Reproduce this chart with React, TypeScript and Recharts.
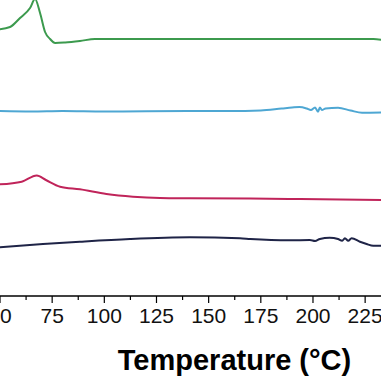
import { LineChart, Line, XAxis, YAxis } from 'recharts';

// temperature (°C) and offset heat-flow signal (arbitrary units) for each trace
const greenT = [49, 54.8, 59.6, 64.4, 66.8, 69.2, 71.6, 74, 76.4, 81.2, 88.3, 95.5, 229, 233];
const greenV = [266.5, 269, 278, 288, 297, 283, 264, 257, 253, 253.5, 255, 257, 257, 256];

const cyanT = [49, 65, 80, 100, 120, 140, 160, 175, 185, 190, 193.5, 197, 199, 201, 202.4, 203.3, 204.3, 206, 212, 218, 223.5, 233];
const cyanV = [185, 184.5, 185, 184.5, 184.8, 185, 185, 185.5, 187.5, 188.5, 189, 187.5, 186, 188.5, 184.3, 188.5, 186, 187.5, 188.2, 185.5, 183.3, 183.5];

const pinkT = [49, 60.4, 67.6, 72, 78.8, 88.3, 101, 113.7, 126.7, 141, 170, 194, 233];
const pinkV = [111.5, 114.3, 120.5, 116, 109.3, 106.7, 102, 99.3, 98, 97.7, 97.4, 97, 96];

const navyT = [49, 70.6, 88.3, 112.3, 141, 165, 170, 189, 198.5, 201, 203.3, 208, 212, 214, 215.3, 216.9, 218.5, 222.5, 225.7, 228.9, 233];
const navyV = [48.5, 52, 54.3, 57, 58.7, 57.7, 57, 55.7, 56, 55, 57, 58.3, 57, 55.3, 57.7, 55.3, 57.7, 54.3, 52, 50.3, 50.3];

const xTicks = [50, 62.5, 75, 87.5, 100, 112.5, 125, 137.5, 150, 162.5, 175, 187.5, 200, 212.5, 225];

const toPoints = (ts: number[], vs: number[]) => ts.map((t, i) => ({ t, v: vs[i] }));

const series = [
  { name: 'green', color: '#3c9a4e', data: toPoints(greenT, greenV) },
  { name: 'cyan', color: '#4ea7d3', data: toPoints(cyanT, cyanV) },
  { name: 'pink', color: '#c0245a', data: toPoints(pinkT, pinkV) },
  { name: 'navy', color: '#1f2447', data: toPoints(navyT, navyV) },
];

function TempTick({ x, y, payload }: any) {
  const major = payload.value % 25 === 0;
  return (
    <g>
      <line x1={x} x2={x} y1={y} y2={y + (major ? 7 : 4)} stroke="#000" strokeWidth={1.2} />
      {major && (
        <text x={x} y={y + 27} textAnchor="middle" fontSize={21} fill="#111" fontFamily="'Liberation Sans', Arial, sans-serif">
          {payload.value}
        </text>
      )}
    </g>
  );
}

export default function App() {
  return (
    <div style={{ position: 'absolute', left: 0, top: 0, width: 381, height: 381, overflow: 'hidden', background: '#fff' }}>
      <LineChart width={381} height={381} margin={{ top: 0, right: 0, bottom: 0, left: 0 }}>
        <XAxis
          type="number"
          dataKey="t"
          domain={[50, 232.6]}
          allowDataOverflow
          ticks={xTicks}
          interval={0}
          tickSize={0}
          tickMargin={0}
          tick={<TempTick />}
          height={85}
          stroke="#000"
          strokeWidth={1.5}
          label={{
            value: 'Temperature (°C)',
            position: 'insideBottom',
            offset: 11,
            dx: 44,
            style: { fontSize: 29, fontWeight: 'bold', fill: '#000', fontFamily: "'Liberation Sans', Arial, sans-serif" },
          }}
        />
        <YAxis hide type="number" domain={[0, 296]} allowDataOverflow />
        {series.map((s) => (
          <Line
            key={s.name}
            data={s.data}
            dataKey="v"
            type="monotone"
            stroke={s.color}
            strokeWidth={2}
            dot={false}
            activeDot={false}
            isAnimationActive={false}
          />
        ))}
      </LineChart>
    </div>
  );
}
